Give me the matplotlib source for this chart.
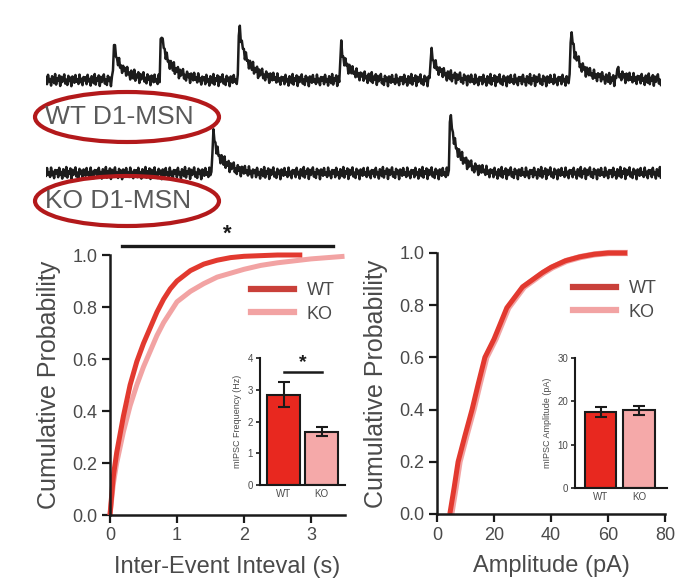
import numpy as np
import matplotlib
matplotlib.use("Agg")
import matplotlib.pyplot as plt
from matplotlib.patches import Ellipse
from matplotlib.lines import Line2D

plt.rcParams['font.family'] = ['Liberation Sans', 'DejaVu Sans']

# ---------------- data ----------------
groups = ["WT", "KO"]
trace_labels = ["WT D1-MSN", "KO D1-MSN"]

# example traces: event times (s) and amplitudes (pA)
wt_event_t = [0.221, 0.374, 0.628, 0.959, 1.252, 1.707, 1.857]
wt_event_amp = [19.0, 27.5, 31.0, 18.5, 15.5, 27.0, 5.0]
ko_event_t = [0.543, 1.314]
ko_event_amp = [22.5, 33.0]
# event kinetics template (offset s, relative amplitude)
kin_offset = [-0.004, 0.0, 0.004, 0.010, 0.020, 0.035, 0.050, 0.070, 0.100, 0.140]
kin_rel = [0.0, 1.0, 0.75, 0.55, 0.38, 0.25, 0.17, 0.10, 0.05, 0.0]
# baseline noise pattern (pA)
noise_pattern = [1.4, -2.1, 2.6, -0.7, 0.5, -2.8, 1.9, 0.3, -1.6, 3.0, -2.3, 0.9,
                 -0.4, 2.3, -3.0, 1.6, -1.0, 0.7, 2.8, -1.8, 0.2, -2.5, 2.1, -0.5,
                 1.2, -3.1, 1.8, 1.0, -1.4, 2.5, -0.9, 0.4, -2.0, 2.7, -1.1, 0.6,
                 -2.6, 1.5, -0.2]

# cumulative inter-event interval (s)
iei_wt_x = [0, 0.05, 0.1, 0.2, 0.3, 0.4, 0.5, 0.6, 0.7, 0.8, 0.9, 1.0, 1.2, 1.4,
            1.6, 1.8, 2.0, 2.5, 2.87]
iei_wt_y = [0, 0.15, 0.24, 0.38, 0.50, 0.59, 0.66, 0.72, 0.78, 0.83, 0.87, 0.90,
            0.94, 0.965, 0.98, 0.99, 0.995, 1.0, 1.0]
iei_ko_x = [0, 0.05, 0.1, 0.2, 0.3, 0.4, 0.5, 0.6, 0.7, 0.8, 0.9, 1.0, 1.2, 1.4,
            1.6, 1.8, 2.0, 2.25, 2.5, 3.0, 3.5]
iei_ko_y = [0, 0.12, 0.20, 0.32, 0.42, 0.50, 0.57, 0.63, 0.69, 0.74, 0.78, 0.82,
            0.86, 0.89, 0.915, 0.93, 0.945, 0.96, 0.97, 0.985, 0.995]

# cumulative amplitude (pA)
amp_wt_x = [4.5, 6, 7.4, 9.8, 12.3, 14.5, 16.8, 20, 24.5, 30, 37, 40, 45, 50, 55, 60, 66.7]
amp_wt_y = [0, 0.1, 0.2, 0.3, 0.4, 0.5, 0.6, 0.67, 0.79, 0.87, 0.925, 0.945, 0.97,
            0.985, 0.995, 1.0, 1.0]
amp_ko_x = [5.0, 6.5, 7.9, 10.3, 12.8, 15.0, 17.3, 20.5, 25.0, 30.5, 37.5, 40.5,
            45.5, 50.5, 55.5, 60.5, 67.0]
amp_ko_y = amp_wt_y

# inset bars
freq_mean = [2.85, 1.68]
freq_err = [0.40, 0.15]
amp_mean = [17.6, 17.9]
amp_err = [1.1, 1.0]

# ---------------- style ----------------
WT_LINE = "#e2392f"
KO_LINE = "#f2a3a3"
WT_LEG = "#c9403a"
WT_BAR = "#e8281f"
KO_BAR = "#f5a9a9"
TXT = "#4a4a4a"
AX = "#1a1a1a"
W, H = 681, 580

fig = plt.figure(figsize=(6.81, 5.80), dpi=100)


def fr(x0, y0, x1, y1):
    """pixel box (top-left origin) -> figure fraction rect"""
    return [x0 / W, 1 - y1 / H, (x1 - x0) / W, (y1 - y0) / H]


# ---------------- traces ----------------
tax = fig.add_axes(fr(46, 0, 661, 230))
tax.set_xlim(0, 2.0)
tax.set_ylim(-75, 40)
tax.axis("off")
t = np.arange(0, 2.0, 0.0033)


def build(ev_t, ev_a, shift):
    y = np.resize(np.roll(noise_pattern, shift), t.size).astype(float)
    for t0, a in zip(ev_t, ev_a):
        y += a * np.interp(t - t0, kin_offset, kin_rel, left=0, right=0)
    return y


tax.plot(t, build(wt_event_t, wt_event_amp, 0), color="#1c1c1c", lw=1.8)
tax.plot(t, build(ko_event_t, ko_event_amp, 11) - 46.5, color="#1c1c1c", lw=1.8)

for lab, cy in zip(trace_labels, [117, 201]):
    fig.text(45 / W, 1 - cy / H, lab, fontsize=19, color="#5a5a5a",
             ha="left", va="center")
    fig.patches.append(Ellipse((127 / W, 1 - cy / H), 184 / W, 50 / H,
                               transform=fig.transFigure, fill=False,
                               edgecolor="#b3191b", lw=3.0))


def style_main(ax):
    for s in ["top", "right"]:
        ax.spines[s].set_visible(False)
    for s in ["left", "bottom"]:
        ax.spines[s].set_linewidth(1.8)
        ax.spines[s].set_color(AX)
    ax.tick_params(direction="out", length=6, width=1.6, colors=AX,
                   labelsize=13, labelcolor=TXT, pad=3)


# ---------------- left main ----------------
ax1 = fig.add_axes(fr(110, 255, 344.5, 515))
ax1.plot(iei_ko_x, iei_ko_y, color=KO_LINE, lw=3.6, solid_capstyle="butt", clip_on=False)
ax1.plot(iei_wt_x, iei_wt_y, color=WT_LINE, lw=3.6, solid_capstyle="butt", clip_on=False)
ax1.set_xlim(0, 3.5)
ax1.set_ylim(0, 1.0)
ax1.set_xticks([0, 1, 2, 3])
ax1.set_yticks([0, 0.2, 0.4, 0.6, 0.8, 1.0])
ax1.set_yticklabels(["0.0", "0.2", "0.4", "0.6", "0.8", "1.0"])
style_main(ax1)
ax1.set_xlabel("Inter-Event Inteval (s)", fontsize=17, color=TXT, labelpad=8)
ax1.set_ylabel("Cumulative Probability", fontsize=18, color=TXT, labelpad=8)
ax1.plot([0.18, 3.33], [1.035, 1.035], color=AX, lw=2.4, clip_on=False)
ax1.text(1.75, 1.04, "*", fontsize=16, ha="center", va="bottom", color=AX,
         fontweight="bold")

leg_handles = [Line2D([], [], color=WT_LEG, lw=4.5), Line2D([], [], color=KO_LINE, lw=4.5)]
ax1.legend(leg_handles, groups, loc="upper left", bbox_to_anchor=(0.6, 0.895),
           frameon=False, fontsize=13, handlelength=2.4, handletextpad=0.7,
           labelspacing=0.35, borderpad=0, borderaxespad=0, labelcolor=TXT)

# ---------------- right main ----------------
ax2 = fig.add_axes(fr(437, 253, 665, 514))
ax2.plot(amp_ko_x, amp_ko_y, color=KO_LINE, lw=4.5, solid_capstyle="butt", clip_on=False)
ax2.plot(amp_wt_x, amp_wt_y, color=WT_LINE, lw=3.6, solid_capstyle="butt", clip_on=False)
ax2.set_xlim(0, 80)
ax2.set_ylim(0, 1.0)
ax2.set_xticks([0, 20, 40, 60, 80])
ax2.set_yticks([0, 0.2, 0.4, 0.6, 0.8, 1.0])
ax2.set_yticklabels(["0.0", "0.2", "0.4", "0.6", "0.8", "1.0"])
style_main(ax2)
ax2.set_xlabel("Amplitude (pA)", fontsize=17, color=TXT, labelpad=8)
ax2.set_ylabel("Cumulative Probability", fontsize=18, color=TXT, labelpad=8)
ax2.legend(leg_handles, groups, loc="upper left", bbox_to_anchor=(0.595, 0.895),
           frameon=False, fontsize=13, handlelength=2.4, handletextpad=0.7,
           labelspacing=0.35, borderpad=0, borderaxespad=0, labelcolor=TXT)


# ---------------- insets ----------------
def style_inset(ax):
    for s in ["top", "right"]:
        ax.spines[s].set_visible(False)
    for s in ["left", "bottom"]:
        ax.spines[s].set_linewidth(1.5)
        ax.spines[s].set_color(AX)
    ax.tick_params(direction="out", length=3, width=1.2, colors=AX,
                   labelsize=7, labelcolor=TXT, pad=2)
    ax.tick_params(axis="x", length=0, pad=3)
    ax.patch.set_alpha(0)


pos = [0, 1]
in1 = fig.add_axes(fr(260, 358, 345, 485))
in1.bar(pos, freq_mean, width=0.88, color=[WT_BAR, KO_BAR], edgecolor=AX, lw=1.5)
in1.errorbar(pos, freq_mean, yerr=freq_err, fmt="none", ecolor=AX, elinewidth=1.5,
             capsize=4, capthick=1.5)
in1.set_xlim(-0.63, 1.62)
in1.set_ylim(0, 4)
in1.set_yticks([0, 1, 2, 3, 4])
in1.set_xticks(pos)
in1.set_xticklabels(groups)
style_inset(in1)
in1.set_ylabel("mIPSC Frequency (Hz)", fontsize=6.5, color=TXT, labelpad=4)
in1.plot([0.0, 1.0], [3.56, 3.56], color=AX, lw=1.8, clip_on=False)
in1.text(0.5, 3.6, "*", fontsize=14, ha="center", va="bottom", color=AX,
         fontweight="bold")

in2 = fig.add_axes(fr(575, 358, 667, 488))
in2.bar(pos, amp_mean, width=0.82, color=[WT_BAR, KO_BAR], edgecolor=AX, lw=1.5)
in2.errorbar(pos, amp_mean, yerr=amp_err, fmt="none", ecolor=AX, elinewidth=1.5,
             capsize=4, capthick=1.5)
in2.set_xlim(-0.66, 1.72)
in2.set_ylim(0, 30)
in2.set_yticks([0, 10, 20, 30])
in2.set_xticks(pos)
in2.set_xticklabels(groups)
style_inset(in2)
in2.set_ylabel("mIPSC Amplitude (pA)", fontsize=6.5, color=TXT, labelpad=4)

fig.savefig("out.png", dpi=100)
